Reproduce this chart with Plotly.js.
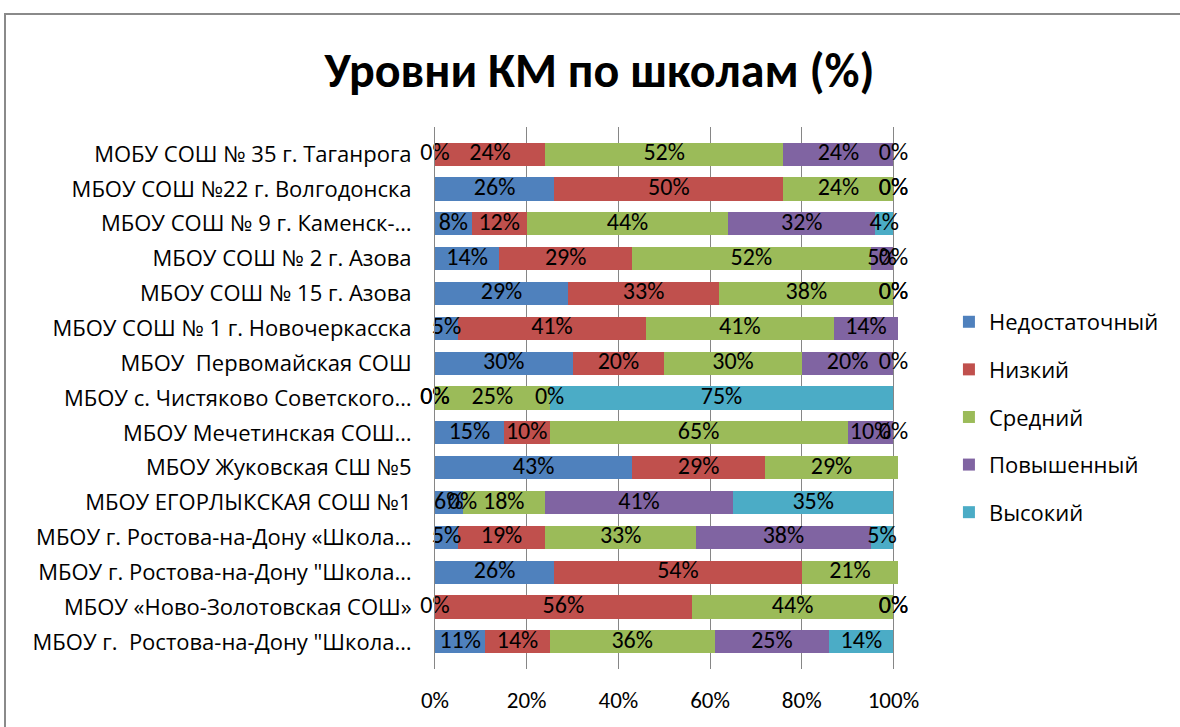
<!DOCTYPE html>
<html><head><meta charset="utf-8">
<script src="https://cdn.plot.ly/plotly-3.0.1.min.js"></script>
<style>
html,body{margin:0;padding:0;background:#fff;}
#chart{position:absolute;left:0;top:0;width:1180px;height:727px;}
#frame{position:absolute;left:4px;top:13px;width:1180px;height:720px;border-top:2px solid #8a8a8a;border-left:2px solid #8a8a8a;pointer-events:none;}
</style></head>
<body>
<div id="chart"></div>
<div id="frame"></div>
<script>
const categories = [
  "МОБУ СОШ № 35 г. Таганрога",
  "МБОУ СОШ №22 г. Волгодонска",
  "МБОУ СОШ № 9 г. Каменск-…",
  "МБОУ СОШ № 2 г. Азова",
  "МБОУ СОШ № 15 г. Азова",
  "МБОУ СОШ № 1 г. Новочеркасска",
  "МБОУ  Первомайская СОШ",
  "МБОУ с. Чистяково Советского…",
  "МБОУ Мечетинская СОШ…",
  "МБОУ Жуковская СШ №5",
  "МБОУ ЕГОРЛЫКСКАЯ СОШ №1",
  "МБОУ г. Ростова-на-Дону «Школа…",
  "МБОУ г. Ростова-на-Дону \"Школа…",
  "МБОУ «Ново-Золотовская СОШ»",
  "МБОУ г.  Ростова-на-Дону \"Школа…"
];
const seriesNames = ["Недостаточный", "Низкий", "Средний", "Повышенный", "Высокий"];
const nedostatochny = [0, 26, 8, 14, 29, 5, 30, 0, 15, 43, 6, 5, 26, 0, 11];
const nizkiy        = [24, 50, 12, 29, 33, 41, 20, 0, 10, 29, 0, 19, 54, 56, 14];
const sredniy       = [52, 24, 44, 52, 38, 41, 30, 25, 65, 29, 18, 33, 21, 44, 36];
const povyshenny    = [24, 0, 32, 5, 0, 14, 20, 0, 10, null, 41, 38, null, 0, 25];
const vysokiy       = [0, 0, 4, 0, 0, null, 0, 75, 0, null, 35, 5, null, 0, 14];
const xTicks = [0, 20, 40, 60, 80, 100];

const allSeries = [nedostatochny, nizkiy, sredniy, povyshenny, vysokiy];
const colors = ["#4F81BD", "#C0504D", "#9BBB59", "#8064A2", "#4BACC6"];
const FONT = "Carlito, 'Open Sans', sans-serif";
const CYR = "'Open Sans', Carlito, sans-serif";

const traces = [];
allSeries.forEach((vals, i) => {
  traces.push({
    type: "bar", orientation: "h", name: seriesNames[i],
    y: categories, x: vals.map(v => v === null ? 0 : v),
    marker: {color: colors[i], line: {width: 0}},
    legendgroup: "g" + i, hoverinfo: "skip"
  });
});

const lx = [], ly = [], lt = [];
categories.forEach((c, r) => {
  let cum = 0;
  allSeries.forEach(vals => {
    const v = vals[r];
    if (v === null) return;
    lx.push(cum + v / 2); ly.push(c); lt.push(v + "%");
    cum += v;
  });
});
traces.push({
  type: "scatter", mode: "text", x: lx, y: ly, text: lt,
  textposition: "middle center", showlegend: false, hoverinfo: "skip",
  cliponaxis: false,
  textfont: {family: FONT, size: 24, color: "#000"}
});

const layout = {
  width: 1180, height: 727,
  margin: {l: 435, r: 282, t: 127, b: 58},
  paper_bgcolor: "#fff", plot_bgcolor: "#fff",
  barmode: "stack", bargap: 0.335,
  font: {family: FONT, size: 22, color: "#000"},
  title: {text: "<b>Уровни КМ по школам (%)</b>", font: {family: FONT, size: 48, color: "#000"},
          x: 0.508, xref: "container", y: 0.904, yref: "container", yanchor: "middle", xanchor: "center"},
  xaxis: {range: [0, 101], tickvals: xTicks, ticktext: xTicks.map(t => t + "%"),
          showgrid: true, gridcolor: "#868686", gridwidth: 1, zeroline: false,
          showline: false, ticks: "outside", ticklen: 10, tickcolor: "rgba(0,0,0,0)",
          tickfont: {family: FONT, size: 23}, fixedrange: true},
  yaxis: {autorange: "reversed", showline: true, linecolor: "#868686", linewidth: 1,
          ticks: "outside", ticklen: 18, tickcolor: "rgba(0,0,0,0)",
          tickfont: {family: CYR, size: 22}, fixedrange: true, showgrid: false},
  legend: {x: 1.11, xanchor: "left", y: 0.465, yanchor: "middle", traceorder: "grouped",
           tracegroupgap: 16, font: {family: CYR, size: 22}, bgcolor: "rgba(0,0,0,0)"},
  showlegend: true
};

Plotly.newPlot("chart", traces, layout, {displayModeBar: false, staticPlot: true});
</script>
</body></html>
